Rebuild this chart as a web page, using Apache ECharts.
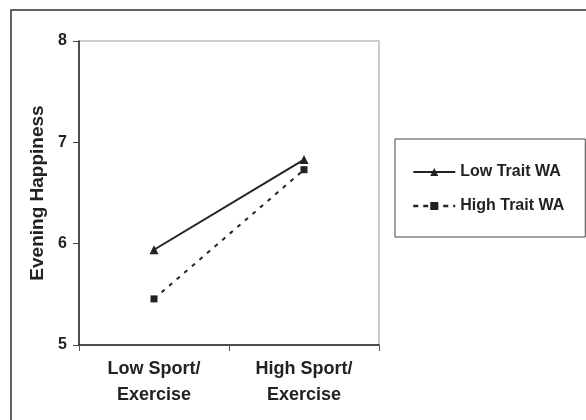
<!DOCTYPE html>
<html>
<head>
<meta charset="utf-8">
<script src="https://cdn.jsdelivr.net/npm/echarts@6/dist/echarts.min.js"></script>
<style>
html,body{margin:0;padding:0;background:#fff;}
#chart{width:586px;height:420px;}
</style>
</head>
<body>
<div id="chart"></div>
<script>
var categories = ['Low Sport/\nExercise', 'High Sport/\nExercise'];
var lowTraitWA = [5.94, 6.83];
var highTraitWA = [5.455, 6.73];
var yTicks = [5, 6, 7, 8];
var yAxisTitle = 'Evening Happiness';
var seriesNames = ['Low Trait WA', 'High Trait WA'];

var FONT = '"Liberation Sans", Arial, Helvetica, sans-serif';
var chart = echarts.init(document.getElementById('chart'), null, {renderer: 'canvas'});
chart.setOption({
  backgroundColor: '#fff',
  animation: false,
  graphic: [{
    type: 'rect',
    shape: {x: 11, y: 10, width: 700, height: 600},
    style: {fill: 'none', stroke: '#333', lineWidth: 1.5},
    silent: true, z: 0
  }],
  grid: {
    left: 79, right: 207, top: 41, bottom: 75,
    show: true, borderColor: '#bdbdbd', borderWidth: 1.5, backgroundColor: 'transparent'
  },
  legend: {
    orient: 'vertical',
    left: 395, top: 139,
    padding: [24, 21, 22, 17],
    itemGap: 16,
    itemWidth: 42, itemHeight: 10,
    borderColor: '#444', borderWidth: 1,
    textStyle: {fontFamily: FONT, fontWeight: 'bold', fontSize: 16, color: '#222', lineHeight: 18},
    data: [
      {name: seriesNames[0], lineStyle: {width: 2, type: 'solid'}},
      {name: seriesNames[1], lineStyle: {width: 2.5, type: [5, 5]}}
    ]
  },
  xAxis: {
    type: 'category',
    data: categories,
    boundaryGap: true,
    axisLine: {lineStyle: {color: '#222', width: 1.5}},
    axisTick: {show: true, length: 6, lineStyle: {color: '#555', width: 1}},
    axisLabel: {fontFamily: FONT, fontWeight: 'bold', fontSize: 18, color: '#222', margin: 11, lineHeight: 26}
  },
  yAxis: {
    type: 'value',
    min: 5, max: 8, interval: 1,
    name: yAxisTitle,
    nameLocation: 'middle',
    nameGap: 32,
    nameTextStyle: {fontFamily: FONT, fontWeight: 'bold', fontSize: 19, color: '#222'},
    axisLine: {show: true, lineStyle: {color: '#222', width: 1.5}},
    axisTick: {show: true, length: 6, lineStyle: {color: '#444', width: 1}},
    splitLine: {show: false},
    axisLabel: {fontFamily: FONT, fontWeight: 'bold', fontSize: 16, color: '#222', margin: 12,
      formatter: function (v) { return yTicks.indexOf(v) >= 0 ? String(v) : ''; }}
  },
  series: [
    {
      name: seriesNames[0], type: 'line', data: lowTraitWA,
      symbol: 'triangle', symbolSize: 9, showSymbol: true,
      lineStyle: {color: '#222', width: 2, type: 'solid'},
      itemStyle: {color: '#222'}
    },
    {
      name: seriesNames[1], type: 'line', data: highTraitWA,
      symbol: 'rect', symbolSize: 7, showSymbol: true,
      lineStyle: {color: '#222', width: 2, type: [4, 6]},
      itemStyle: {color: '#222'}
    }
  ]
});
</script>
</body>
</html>
